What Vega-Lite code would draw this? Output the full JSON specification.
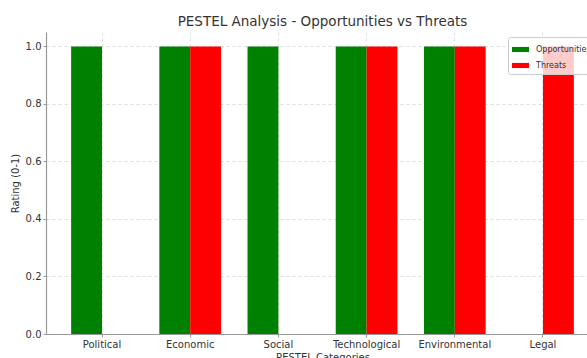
{
  "$schema": "https://vega.github.io/schema/vega-lite/v6.json",
  "width": 553,
  "height": 302,
  "autosize": "none",
  "padding": {"left": 46, "top": 32, "right": 0, "bottom": 26},
  "background": "white",
  "title": {
    "text": "PESTEL Analysis - Opportunities vs Threats",
    "font": "DejaVu Sans",
    "fontSize": 13.5,
    "fontWeight": "normal",
    "color": "#333333",
    "anchor": "middle",
    "offset": 4
  },
  "data": {
    "values": [
      {"category": "Political", "type": "Opportunities", "rating": 1},
      {"category": "Political", "type": "Threats", "rating": 0},
      {"category": "Economic", "type": "Opportunities", "rating": 1},
      {"category": "Economic", "type": "Threats", "rating": 1},
      {"category": "Social", "type": "Opportunities", "rating": 1},
      {"category": "Social", "type": "Threats", "rating": 0},
      {"category": "Technological", "type": "Opportunities", "rating": 1},
      {"category": "Technological", "type": "Threats", "rating": 1},
      {"category": "Environmental", "type": "Opportunities", "rating": 1},
      {"category": "Environmental", "type": "Threats", "rating": 1},
      {"category": "Legal", "type": "Opportunities", "rating": 0},
      {"category": "Legal", "type": "Threats", "rating": 1}
    ]
  },
  "mark": {"type": "bar"},
  "encoding": {
    "x": {
      "field": "category",
      "type": "nominal",
      "sort": ["Political", "Economic", "Social", "Technological", "Environmental", "Legal"],
      "scale": {"paddingInner": 0.3, "paddingOuter": 0.285},
      "axis": {
        "title": "PESTEL Categories",
        "labelAngle": 0,
        "bandPosition": 0.5,
        "grid": true,
        "titlePadding": 3
      }
    },
    "xOffset": {
      "field": "type",
      "type": "nominal",
      "scale": {"paddingInner": 0, "paddingOuter": 0}
    },
    "y": {
      "field": "rating",
      "type": "quantitative",
      "scale": {"domain": [0, 1.05], "nice": false, "zero": true},
      "axis": {
        "title": "Rating (0-1)",
        "values": [0, 0.2, 0.4, 0.6, 0.8, 1.0],
        "format": ".1f",
        "grid": true,
        "titlePadding": 5
      }
    },
    "color": {
      "field": "type",
      "type": "nominal",
      "scale": {"domain": ["Opportunities", "Threats"], "range": ["#008000", "#ff0000"]},
      "legend": {
        "title": null,
        "orient": "none",
        "legendX": 462,
        "legendY": 5,
        "symbolType": "M-1,-0.3H1V0.3H-1Z",
        "symbolSize": 289,
        "symbolStrokeWidth": 0,
        "labelFont": "DejaVu Sans",
        "labelFontSize": 8,
        "labelColor": "#333333",
        "labelOffset": 7,
        "padding": 4,
        "rowPadding": 3,
        "fillColor": "rgba(255,255,255,0.8)",
        "strokeColor": "#cccccc",
        "cornerRadius": 2
      }
    }
  },
  "config": {
    "view": {"stroke": null},
    "axis": {
      "labelFont": "DejaVu Sans",
      "labelFontSize": 10,
      "labelColor": "#333333",
      "titleFont": "DejaVu Sans",
      "titleFontSize": 10,
      "titleFontWeight": "normal",
      "titleColor": "#333333",
      "domainColor": "#999999",
      "domainWidth": 1.2,
      "tickColor": "#999999",
      "tickSize": 3,
      "labelPadding": 2,
      "gridColor": "#d0d0d0",
      "gridDash": [3, 3],
      "gridWidth": 0.7
    }
  }
}
